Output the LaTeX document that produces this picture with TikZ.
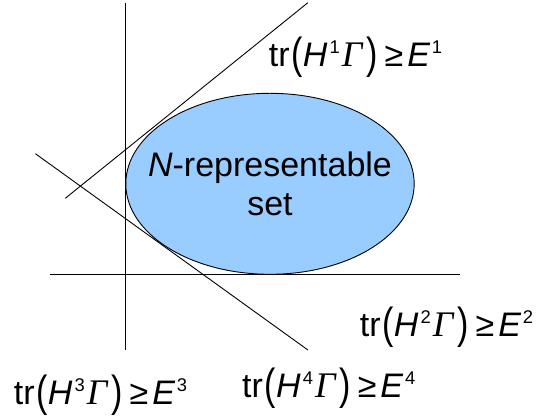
\documentclass[tikz,border=0pt]{standalone}
\usepackage{fontspec}
\setmainfont{Liberation Sans}
\newfontfamily\greekserif{Liberation Serif}
\usepackage{graphicx}
\usetikzlibrary{shapes.geometric}
\definecolor{setblue}{HTML}{99CCFF}
\newcommand{\bigparen}[1]{\raisebox{-1pt}{\scalebox{1}[1.28]{#1}}}
\newcommand{\upidx}[1]{\raisebox{6.8pt}{\fontsize{9.2}{9.2}\selectfont#1}}
\newcommand{\traceineq}[1]{tr\kern1pt\bigparen{(}\textit{H}\kern1pt\upidx{#1}\kern1pt{\fontsize{18}{19}\greekserif\itshape Γ}\kern2pt\bigparen{)}\kern3.5pt≥\kern2pt\textit{E}\kern0.8pt\upidx{#1}}
\tikzset{
    plane/.style={draw=black, line width=0.45pt},
    nset/.style={ellipse, draw=black, line width=0.45pt, fill=setblue, minimum width=144.2pt, minimum height=90.5pt, inner sep=0pt},
    ineq/.style={anchor=base west, inner sep=0pt},
}

\begin{document}
\begin{tikzpicture}[x=0.5pt, y=-0.5pt, every node/.style={font=\fontsize{17}{19.2}\selectfont}]
    \useasboundingbox (0,0) rectangle (543,416);

    % bounding hyperplanes
    \coordinate (v1) at (125.8,2.7);
    \coordinate (v2) at (125.8,350);
    \coordinate (h1) at (50.4,274.3);
    \coordinate (h2) at (459.7,274.3);
    \coordinate (a1) at (65.3,198.3);
    \coordinate (a2) at (307.9,2.7);
    \coordinate (b1) at (35.4,153.7);
    \coordinate (b2) at (307.9,350);

    \node[nset] (set) at (270,183.8) {};
    \node[align=center, inner sep=0pt] (settext) at (set.center) {\textit{N}-representable\\set};

    \draw[plane] (v1) -- (v2);
    \draw[plane] (h1) -- (h2);
    \draw[plane] (a1) -- (a2);
    \draw[plane] (b1) -- (b2);

    \node[ineq] (e1) at (268.5,66.7) {\traceineq{1}};
    \node[ineq] (e2) at (359.5,336.7) {\traceineq{2}};
    \node[ineq] (e3) at (13.5,405) {\traceineq{3}};
    \node[ineq] (e4) at (241.7,398) {\traceineq{4}};
\end{tikzpicture}
\end{document}
